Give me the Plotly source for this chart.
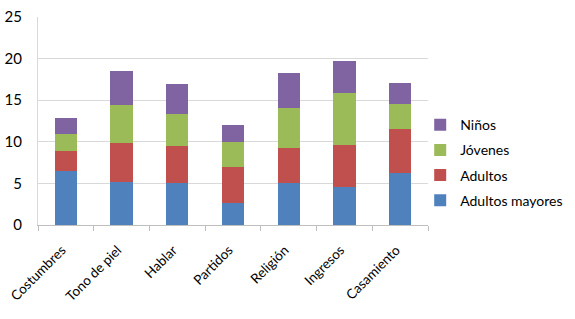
import plotly.graph_objects as go

categories = ["Costumbres", "Tono de piel", "Hablar", "Partidos", "Religión", "Ingresos", "Casamiento"]
adultos_mayores = [6.5, 5.2, 5.1, 2.6, 5.1, 4.6, 6.2]
adultos = [2.4, 4.6, 4.4, 4.4, 4.2, 5.0, 5.3]
jovenes = [2.0, 4.6, 3.9, 3.0, 4.8, 6.3, 3.1]
ninos = [2.0, 4.1, 3.5, 2.0, 4.2, 3.8, 2.5]

series = [
    ("Adultos mayores", adultos_mayores, "#4F81BD", 4),
    ("Adultos", adultos, "#C0504D", 3),
    ("Jóvenes", jovenes, "#9BBB59", 2),
    ("Niños", ninos, "#8064A2", 1),
]

fig = go.Figure()
for name, vals, color, rank in series:
    fig.add_trace(go.Bar(x=categories, y=vals, name=name, marker_color=color,
                         marker_line_width=0, legendgroup=name, legendrank=rank))

font = "Lato, Open Sans, sans-serif"
fig.update_layout(
    barmode="stack",
    bargap=0.6,
    width=575, height=319,
    margin=dict(l=38, r=147, t=17, b=94, autoexpand=False),
    paper_bgcolor="white", plot_bgcolor="white",
    font=dict(family=font, size=14, color="#000000"),
    legend=dict(traceorder="grouped", x=0.98, xanchor="left", y=0.30, yanchor="middle",
                font=dict(size=14), itemwidth=30, tracegroupgap=4,
                bgcolor="rgba(0,0,0,0)"),
    xaxis=dict(showline=True, linecolor="#BFBFBF", linewidth=1, ticks="outside",
               tickson="boundaries", ticklen=5, tickcolor="#BFBFBF", tickangle=-45,
               tickfont=dict(size=13.5), automargin=False,
               ticklabelshift=-4, ticklabelstandoff=11),
    yaxis=dict(range=[0, 25], dtick=5, showgrid=True, gridcolor="#D9D9D9",
               showline=True, linecolor="#D9D9D9", zeroline=False,
               ticklabelstandoff=12, tickfont=dict(size=15), automargin=False),
)
fig.write_html("out.html", config={"displayModeBar": False},
               post_script="document.body.style.margin='0';document.body.style.overflow='hidden';")
